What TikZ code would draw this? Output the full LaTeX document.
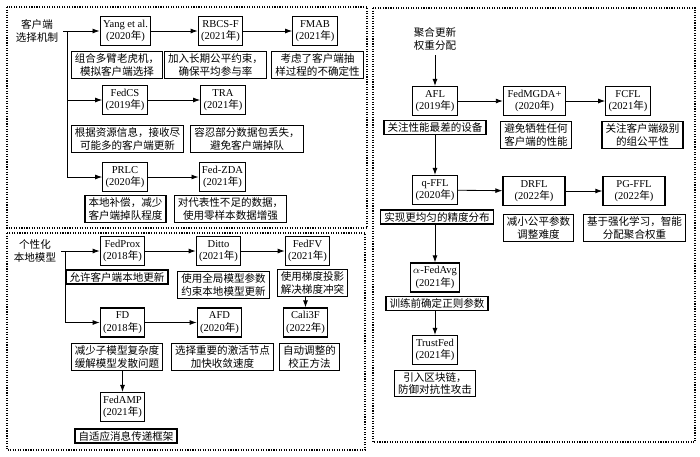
\documentclass[tikz,border=0pt]{standalone}
\usepackage{fontspec}
\setmainfont{Liberation Serif}
\newfontfamily\cjk{Noto Sans CJK SC}
\usetikzlibrary{arrows.meta}
\newcommand{\nian}{{\cjk 年}}

\begin{document}
\begin{tikzpicture}[
  x=0.025cm, y=-0.025cm,
  box/.style={draw, line width=0.9pt, minimum width=11mm, minimum height=7.2mm,
              inner xsep=2pt, inner ysep=1pt, align=center,
              font=\fontsize{7.5}{9}\selectfont},
  wide/.style={box, minimum width=15.5mm},
  note/.style={draw, line width=0.9pt, inner xsep=2.5pt, inner ysep=1.5pt,
               align=center, font=\fontsize{7.5}{9}\selectfont\cjk},
  lab/.style={align=center, font=\fontsize{7.5}{9}\selectfont\cjk},
  arrow/.style={-{Latex[length=5pt,width=3.5pt]}, line width=0.6pt},
  panel/.style={densely dotted, line width=0.8pt},
]
\useasboundingbox (0,0) rectangle (700,456);

\draw[panel] (7,7) rectangle (367,228);
\draw[panel] (7,233) rectangle (365,450);
\draw[panel] (373,8) rectangle (695,442);

% client selection
\node[lab] (sel) at (37,31) {客户端\\选择机制};
\node[box] (yang) at (125.5,31) {Yang et al.\\(2020\nian)};
\node[box] (rbcs) at (220.5,31) {RBCS-F\\(2021\nian)};
\node[box] (fmab) at (315,31) {FMAB\\(2021\nian)};
\node[note] (yangd) at (117,65) {组合多臂老虎机，\\模拟客户端选择};
\node[note] (rbcsd) at (215.5,65) {加入长期公平约束，\\确保平均参与率};
\node[note] (fmabd) at (317.5,65) {考虑了客户端抽\\样过程的不确定性};
\node[box] (fedcs) at (125,100) {FedCS\\(2019\nian)};
\node[box] (tra) at (223,100) {TRA\\(2021\nian)};
\node[note] (fedcsd) at (127.5,139) {根据资源信息，接收尽\\可能多的客户端更新};
\node[note] (trad) at (247,139) {容忍部分数据包丢失，\\避免客户端掉队};
\node[box] (prlc) at (125,177) {PRLC\\(2020\nian)};
\node[box] (zda) at (222.5,177) {Fed-ZDA\\(2021\nian)};
\node[note] (prlcd) at (125.5,209) {本地补偿，减少\\客户端掉队程度};
\node[note] (zdad) at (230.5,209) {对代表性不足的数据，\\使用零样本数据增强};

\coordinate (j1) at (67,31);
\draw[arrow] (sel.east) -- (yang);
\draw[arrow] (j1) |- (prlc);
\draw[arrow] (j1 |- fedcs) -- (fedcs);
\foreach \a/\b in {yang/rbcs, rbcs/fmab, fedcs/tra, prlc/zda}
  \draw[arrow] (\a) -- (\b);

% personalised local model
\node[lab] (pers) at (35,251) {个性化\\本地模型};
\node[box] (prox) at (122.5,251) {FedProx\\(2018\nian)};
\node[box] (ditto) at (218.5,251) {Ditto\\(2021\nian)};
\node[box] (fedfv) at (307.5,251) {FedFV\\(2021\nian)};
\node[note] (proxd) at (117,277) {允许客户端本地更新};
\node[note] (dittod) at (223.5,285) {使用全局模型参数\\约束本地模型更新};
\node[note] (fedfvd) at (312.5,283) {使用梯度投影\\解决梯度冲突};
\node[box] (fd) at (122.5,322.5) {FD\\(2018\nian)};
\node[box] (afd) at (219.5,322.5) {AFD\\(2020\nian)};
\node[box] (cali) at (305.5,322.5) {Cali3F\\(2022\nian)};
\node[note] (fdd) at (117,357) {减少子模型复杂度\\缓解模型发散问题};
\node[note] (afdd) at (222.5,357) {选择重要的激活节点\\加快收敛速度};
\node[note] (calid) at (309.5,357) {自动调整的\\校正方法};
\node[box] (amp) at (122.5,407) {FedAMP\\(2021\nian)};
\node[note] (ampd) at (126,436) {自适应消息传递框架};

\coordinate (j2) at (65,251);
\draw[arrow] (pers.east) -- (prox);
\draw[arrow] (j2) |- (fd);
\foreach \a/\b in {prox/ditto, ditto/fedfv, fd/afd}
  \draw[arrow] (\a) -- (\b);
\draw[arrow] (fedfvd.south -| cali) -- (cali);
\draw[arrow] (fdd.south -| amp) -- (amp);

% aggregation weights
\node[lab] (agg) at (435,39) {聚合更新\\权重分配};
\node[box] (afl) at (435,101) {AFL\\(2019\nian)};
\node[wide] (mgda) at (534.5,101) {FedMGDA+\\(2020\nian)};
\node[box] (fcfl) at (628,101) {FCFL\\(2021\nian)};
\node[note] (afld) at (435,127.5) {关注性能最差的设备};
\node[note] (mgdad) at (536,135) {避免牺牲任何\\客户端的性能};
\node[note] (fcfld) at (642.5,135) {关注客户端级别\\的组公平性};
\node[box] (qffl) at (435,190) {q-FFL\\(2020\nian)};
\node[wide] (drfl) at (534,191) {DRFL\\(2022\nian)};
\node[wide] (pgffl) at (634,191) {PG-FFL\\(2022\nian)};
\node[note] (qffld) at (437,217) {实现更均匀的精度分布};
\node[note] (drfld) at (538.5,228) {减小公平参数\\调整难度};
\node[note] (pgffld) at (634.5,228) {基于强化学习，智能\\分配聚合权重};
\node[box] (alpha) at (435,277.5) {$\alpha$-FedAvg\\(2021\nian)};
\node[note] (alphad) at (437,303.5) {训练前确定正则参数};
\node[box] (trust) at (435,350) {TrustFed\\(2021\nian)};
\node[note] (trustd) at (435,383.5) {引入区块链，\\防御对抗性攻击};

\draw[arrow] (agg) -- (afl);
\foreach \a/\b in {afl/mgda, mgda/fcfl, qffl/drfl, drfl/pgffl}
  \draw[arrow] (\a) -- (\b);
\draw[arrow] (afld.south -| afl) -- (qffl);
\draw[arrow] (qffld.south -| qffl) -- (alpha);
\draw[arrow] (alphad.south -| alpha) -- (trust);
\end{tikzpicture}
\end{document}
